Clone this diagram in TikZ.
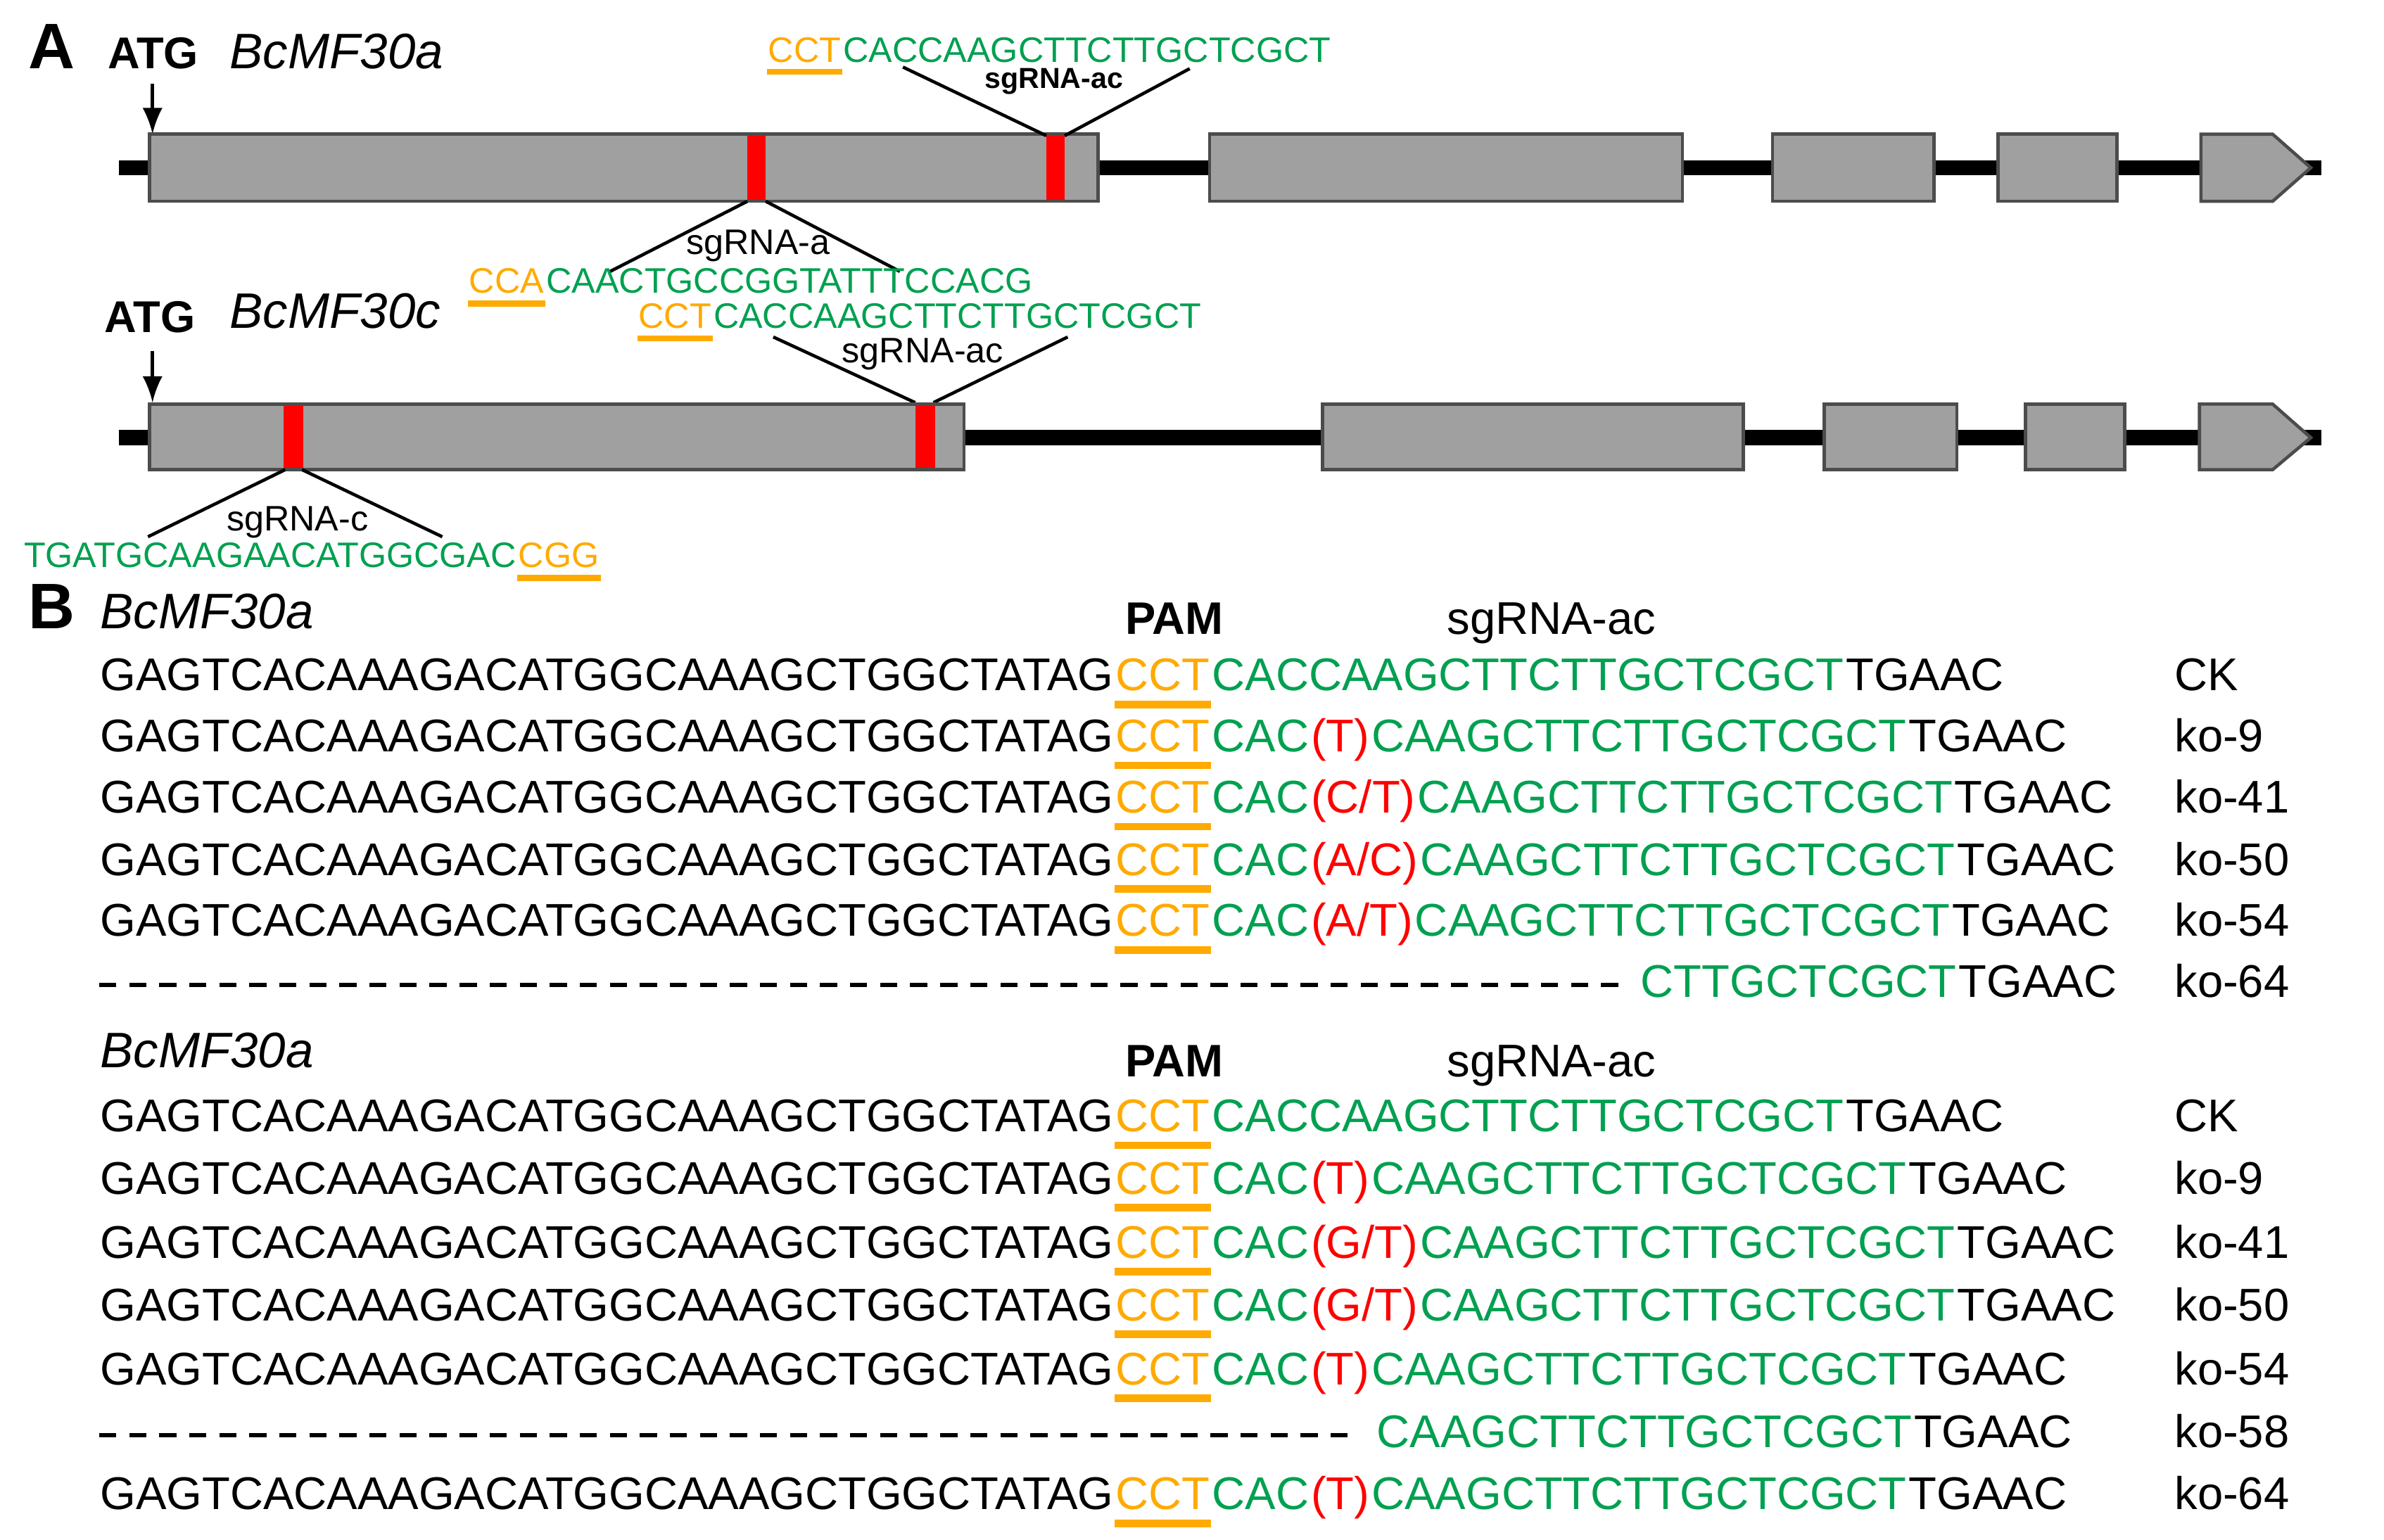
\documentclass[tikz,border=0pt]{standalone}
\usepackage{fontspec}
\setmainfont{Liberation Sans}
\definecolor{grn}{RGB}{0,160,80}
\definecolor{pamc}{RGB}{255,170,0}
\definecolor{gbox}{RGB}{160,160,160}
\begin{document}
\begin{tikzpicture}[x=0.01cm,y=-0.01cm,
  seq/.style={inner sep=0pt,anchor=base west,font=\fontsize{8.55}{10}\selectfont},
  sm/.style={inner sep=0pt,anchor=base west,font=\fontsize{6.6}{8}\selectfont},
  pamline/.style={pamc,line width=1.4pt},
  exon/.style={draw=black!70,fill=gbox,line width=0.6pt},
  intron/.style={line width=2.8pt},
  cut/.style={fill=red,draw=none},
  leg/.style={line width=0.6pt},
  dsh/.style={line width=0.8pt,dash pattern=on 3.2pt off 2.4pt}]
\useasboundingbox (0,0) rectangle (1563,1009.5);
\newcommand\seqrow[6]{%
  \node[seq] (#2a) at (65,#1) {GAGTCACAAAGACATGGCAAAGCTGGCTATAG};
  \node[seq,text=pamc] (#2b) at (#2a.base east) {CCT};
  \node[seq,text=grn] (#2c) at (#2b.base east) {#3};
  \node[seq,text=red] (#2d) at (#2c.base east) {#4};
  \node[seq,text=grn] (#2e) at (#2d.base east) {#5};
  \node[seq] (#2f) at (#2e.base east) {TGAAC};
  \draw[pamline] ([yshift=-0.09cm]#2b.base west) -- ([yshift=-0.09cm]#2b.base east);
  \node[seq] (#2g) at (1425,#1) {#6};}
\newcommand\ckrow[2]{%
  \node[seq] (#2a) at (65,#1) {GAGTCACAAAGACATGGCAAAGCTGGCTATAG};
  \node[seq,text=pamc] (#2b) at (#2a.base east) {CCT};
  \node[seq,text=grn] (#2c) at (#2b.base east) {CACCAAGCTTCTTGCTCGCT};
  \node[seq] (#2f) at (#2c.base east) {TGAAC};
  \draw[pamline] ([yshift=-0.09cm]#2b.base west) -- ([yshift=-0.09cm]#2b.base east);
  \node[seq] (#2g) at (1425,#1) {CK};}
% ---------- Panel A ----------
\node[inner sep=0pt,anchor=base west,font=\fontsize{12}{14}\selectfont\bfseries] (pA) at (18,45) {A};
\node[inner sep=0pt,anchor=base west,font=\fontsize{8.3}{10}\selectfont\bfseries] (atg1) at (70,45) {ATG};
\node[inner sep=0pt,anchor=base west,font=\fontsize{9.3}{11}\selectfont\itshape] (g1) at (150,45) {BcMF30a};
\coordinate (ar1) at (100,88);
\draw[-latex,line width=0.7pt] (100,55) -- (ar1);
\draw[intron] (78,110) -- (1522,110);
\draw[exon] (98,88) rectangle (720,132);
\draw[exon] (793,88) rectangle (1103,132);
\draw[exon] (1162,88) rectangle (1268,132);
\draw[exon] (1310,88) rectangle (1388,132);
\draw[exon] (1443,88) -- (1490,88) -- (1515,110) -- (1490,132) -- (1443,132) -- cycle;
\fill[cut] (490,89) rectangle (502,131);
\fill[cut] (686,89) rectangle (698,131);
% sgRNA-ac top
\draw[leg] (592,44) -- (686,89);
\draw[leg] (780,45) -- (698,89);
\node[sm,font=\fontsize{5.4}{6}\selectfont\bfseries,anchor=base] (l1) at (691,58) {sgRNA-ac};
\node[sm,text=pamc] (s1a) at (503,41) {CCT};
\node[sm,text=grn] (s1b) at (s1a.base east) {CACCAAGCTTCTTGCTCGCT};
\draw[pamline,line width=1.1pt] ([yshift=-0.06cm]s1a.base west) -- ([yshift=-0.06cm]s1a.base east);
% sgRNA-a
\draw[leg] (490,132) -- (400,178);
\draw[leg] (502,132) -- (590,178);
\node[sm,anchor=base,font=\fontsize{6.6}{8}\selectfont] (l2) at (497,167) {sgRNA-a};
\node[sm,text=pamc] (s2a) at (307,192) {CCA};
\node[sm,text=grn] (s2b) at (s2a.base east) {CAACTGCCGGTATTTCCACG};
\draw[pamline,line width=1.1pt] ([yshift=-0.07cm]s2a.base west) -- ([yshift=-0.07cm]s2a.base east);
% second gene
\node[inner sep=0pt,anchor=base west,font=\fontsize{8.3}{10}\selectfont\bfseries] (atg2) at (68,218) {ATG};
\node[inner sep=0pt,anchor=base west,font=\fontsize{9.3}{11}\selectfont\itshape] (g2) at (150,215) {BcMF30c};
\node[sm,text=pamc] (s3a) at (418,215) {CCT};
\node[sm,text=grn] (s3b) at (s3a.base east) {CACCAAGCTTCTTGCTCGCT};
\draw[pamline,line width=1.1pt] ([yshift=-0.07cm]s3a.base west) -- ([yshift=-0.07cm]s3a.base east);
\draw[leg] (507,221) -- (600,264);
\draw[leg] (700,221) -- (612,264);
\node[sm,anchor=base] (l3) at (605,238) {sgRNA-ac};
\coordinate (ar2) at (100,264);
\draw[-latex,line width=0.7pt] (100,230) -- (ar2);
\draw[intron] (78,287) -- (1522,287);
\draw[exon] (98,265) rectangle (632,308);
\draw[exon] (867,265) rectangle (1143,308);
\draw[exon] (1196,265) rectangle (1283,308);
\draw[exon] (1328,265) rectangle (1393,308);
\draw[exon] (1442,265) -- (1490,265) -- (1515,287) -- (1490,308) -- (1442,308) -- cycle;
\fill[cut] (186,266) rectangle (199,307);
\fill[cut] (600,266) rectangle (613,307);
\draw[leg] (187,308) -- (97,352);
\draw[leg] (198,308) -- (290,352);
\node[sm,anchor=base] (l4) at (195,348) {sgRNA-c};
\node[sm,text=grn] (s4a) at (15,372) {TGATGCAAGAACATGGCGAC};
\node[sm,text=pamc] (s4b) at (s4a.base east) {CGG};
\draw[pamline,line width=1.1pt] ([yshift=-0.07cm]s4b.base west) -- ([yshift=-0.07cm]s4b.base east) -- ++(0.12,0);
% ---------- Panel B ----------
\node[inner sep=0pt,anchor=base west,font=\fontsize{12}{14}\selectfont\bfseries] (pB) at (18,412) {B};
\node[inner sep=0pt,anchor=base west,font=\fontsize{9.3}{11}\selectfont\itshape] (g3) at (65,412) {BcMF30a};
\node[inner sep=0pt,anchor=base west,font=\fontsize{8.5}{10}\selectfont\bfseries] (pam1) at (737,416) {PAM};
\node[seq] (sg1) at (948,416) {sgRNA-ac};
\ckrow{453}{r1}
\seqrow{493}{r2}{CAC}{(T)}{CAAGCTTCTTGCTCGCT}{ko-9}
\seqrow{533}{r3}{CAC}{(C/T)}{CAAGCTTCTTGCTCGCT}{ko-41}
\seqrow{574}{r4}{CAC}{(A/C)}{CAAGCTTCTTGCTCGCT}{ko-50}
\seqrow{614}{r5}{CAC}{(A/T)}{CAAGCTTCTTGCTCGCT}{ko-54}
\draw[dsh] (65,646) -- (1065,646);
\node[seq,text=grn] (r6e) at (1075,654) {CTTGCTCGCT};
\node[seq] (r6f) at (r6e.base east) {TGAAC};
\node[seq] (r6g) at (1425,654) {ko-64};
\node[inner sep=0pt,anchor=base west,font=\fontsize{9.3}{11}\selectfont\itshape] (g4) at (65,700) {BcMF30a};
\node[inner sep=0pt,anchor=base west,font=\fontsize{8.5}{10}\selectfont\bfseries] (pam2) at (737,706) {PAM};
\node[seq] (sg2) at (948,706) {sgRNA-ac};
\ckrow{742}{q1}
\seqrow{783}{q2}{CAC}{(T)}{CAAGCTTCTTGCTCGCT}{ko-9}
\seqrow{825}{q3}{CAC}{(G/T)}{CAAGCTTCTTGCTCGCT}{ko-41}
\seqrow{866}{q4}{CAC}{(G/T)}{CAAGCTTCTTGCTCGCT}{ko-50}
\seqrow{908}{q5}{CAC}{(T)}{CAAGCTTCTTGCTCGCT}{ko-54}
\draw[dsh] (65,941) -- (885,941);
\node[seq,text=grn] (q6e) at (902,949) {CAAGCTTCTTGCTCGCT};
\node[seq] (q6f) at (q6e.base east) {TGAAC};
\node[seq] (q6g) at (1425,949) {ko-58};
\seqrow{990}{q7}{CAC}{(T)}{CAAGCTTCTTGCTCGCT}{ko-64}
\end{tikzpicture}
\end{document}
